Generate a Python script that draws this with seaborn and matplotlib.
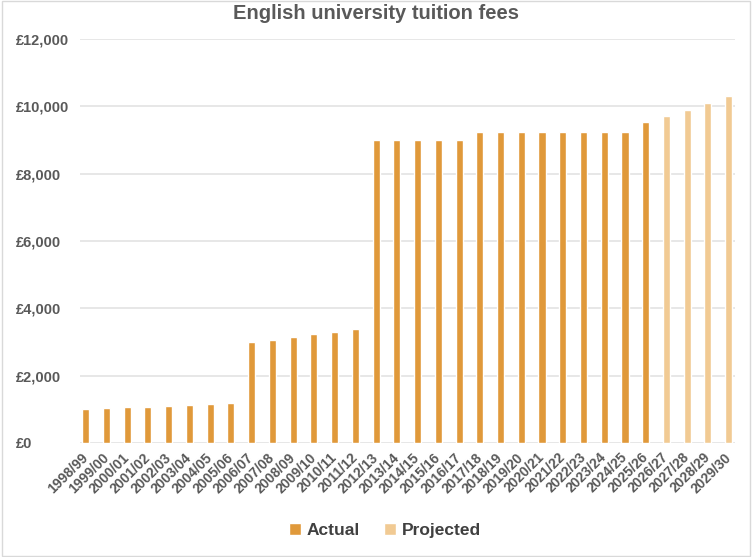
import matplotlib
matplotlib.use("Agg")
import matplotlib.pyplot as plt
import seaborn as sns
import pandas as pd
from matplotlib.ticker import FuncFormatter
from matplotlib.patches import Patch, Rectangle

years = ["1998/99", "1999/00", "2000/01", "2001/02", "2002/03", "2003/04", "2004/05",
         "2005/06", "2006/07", "2007/08", "2008/09", "2009/10", "2010/11", "2011/12",
         "2012/13", "2013/14", "2014/15", "2015/16", "2016/17", "2017/18", "2018/19",
         "2019/20", "2020/21", "2021/22", "2022/23", "2023/24", "2024/25", "2025/26",
         "2026/27", "2027/28", "2028/29", "2029/30"]
fees = [1000, 1025, 1050, 1075, 1100, 1125, 1150, 1175, 3000, 3070, 3145, 3225, 3290,
        3375, 9000, 9000, 9000, 9000, 9000, 9250, 9250, 9250, 9250, 9250, 9250, 9250,
        9250, 9535, 9700, 9900, 10100, 10300]
status = ["Actual"] * 28 + ["Projected"] * 4

df = pd.DataFrame({"year": years, "fee": fees, "status": status})

sns.set_theme(style="white")
plt.rcParams["font.family"] = ["Liberation Sans", "DejaVu Sans"]

fig = plt.figure(figsize=(7.52, 5.57), dpi=100)
ax = fig.add_axes([0.106, 0.205, 0.871, 0.725])

palette = {"Actual": "#E0993A", "Projected": "#F1CA93"}
sns.barplot(data=df, x="year", y="fee", hue="status", palette=palette, dodge=False,
            width=0.34, ax=ax, legend=False, saturation=1)

ax.set_ylim(0, 12000)
ax.set_yticks(range(0, 12001, 2000))
ax.yaxis.set_major_formatter(FuncFormatter(lambda v, p: f"£{int(v):,}"))
ax.set_xlim(-0.29, len(years) - 0.71)
ax.grid(axis="y", color="#e3e3e3", linewidth=1.2)
ax.set_axisbelow(True)
for s in ax.spines.values():
    s.set_visible(False)
ax.set_xlabel("")
ax.set_ylabel("")
ax.tick_params(axis="y", labelsize=10.5, colors="#595959", length=0, pad=46)
ax.tick_params(axis="x", labelsize=10, colors="#595959", length=0, pad=9)
for lab in ax.get_yticklabels():
    lab.set_fontweight("bold")
    lab.set_ha("left")
for lab in ax.get_xticklabels():
    lab.set_rotation(45)
    lab.set_ha("right")
    lab.set_va("center")
    lab.set_rotation_mode("anchor")
    lab.set_fontweight("bold")

fig.text(0.5, 0.975, "English university tuition fees", ha="center", va="center",
         fontsize=14.5, color="#595959", fontweight="bold")

handles = [Patch(facecolor=palette["Actual"], label="Actual"),
           Patch(facecolor=palette["Projected"], label="Projected")]
leg = fig.legend(handles=handles, loc="center", bbox_to_anchor=(0.512, 0.048), ncol=2,
                 frameon=False, handlelength=0.7, handleheight=0.7, handletextpad=0.3,
                 columnspacing=1.4, prop={"size": 12.5, "weight": "bold"})
for t in leg.get_texts():
    t.set_color("#404040")

fig.patches.append(Rectangle((0.002, 0.002), 0.996, 0.996, transform=fig.transFigure,
                             fill=False, edgecolor="#d9d9d9", linewidth=1))

fig.savefig("out.png", dpi=100)
